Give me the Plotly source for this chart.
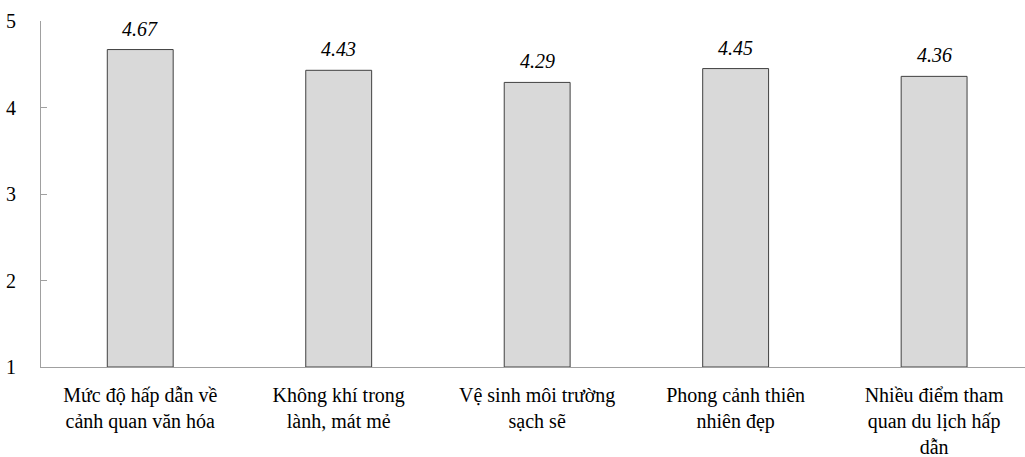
import plotly.graph_objects as go

categories = [
    "Mức độ hấp dẫn về<br>cảnh quan văn hóa",
    "Không khí trong<br>lành, mát mẻ",
    "Vệ sinh môi trường<br>sạch sẽ",
    "Phong cảnh thiên<br>nhiên đẹp",
    "Nhiều điểm tham<br>quan du lịch hấp<br>dẫn",
]
scores = [4.67, 4.43, 4.29, 4.45, 4.36]
y_ticks = [1, 2, 3, 4, 5]

serif = "Liberation Serif"

# bars start at 1, so the drawn length is (score - 1)
fig = go.Figure(
    go.Bar(
        x=categories,
        y=[s - 1 for s in scores],
        base=1,
        width=0.332,
        marker=dict(color="#d9d9d9", line=dict(color="#404040", width=1)),
        hoverinfo="skip",
    )
)

for cat, s in zip(categories, scores):
    fig.add_annotation(
        x=cat, y=s, text=f"<i>{s:.2f}</i>", showarrow=False,
        yanchor="bottom", yshift=8,
        font=dict(family=serif, size=20, color="#000000"),
    )

fig.update_layout(
    width=1025, height=457,
    margin=dict(l=41, r=0, t=21, b=90),
    paper_bgcolor="white", plot_bgcolor="white",
    showlegend=False,
    font=dict(family=serif, size=20, color="#000000"),
)
fig.update_xaxes(
    range=[-0.5, 4.458],
    showline=True, linecolor="#a0a0a0", linewidth=1,
    ticks="", showgrid=False, zeroline=False,
    tickfont=dict(family=serif, size=20, color="#000000"),
    ticklabelstandoff=10,
)
fig.update_yaxes(
    range=[1, 5],
    tickvals=y_ticks,
    showline=True, linecolor="#a0a0a0", linewidth=1,
    ticks="inside", ticklen=6, tickcolor="#a0a0a0",
    showgrid=False, zeroline=False,
    tickfont=dict(family=serif, size=20, color="#000000"),
    ticklabelstandoff=20,
)

fig.write_html("out.html")
